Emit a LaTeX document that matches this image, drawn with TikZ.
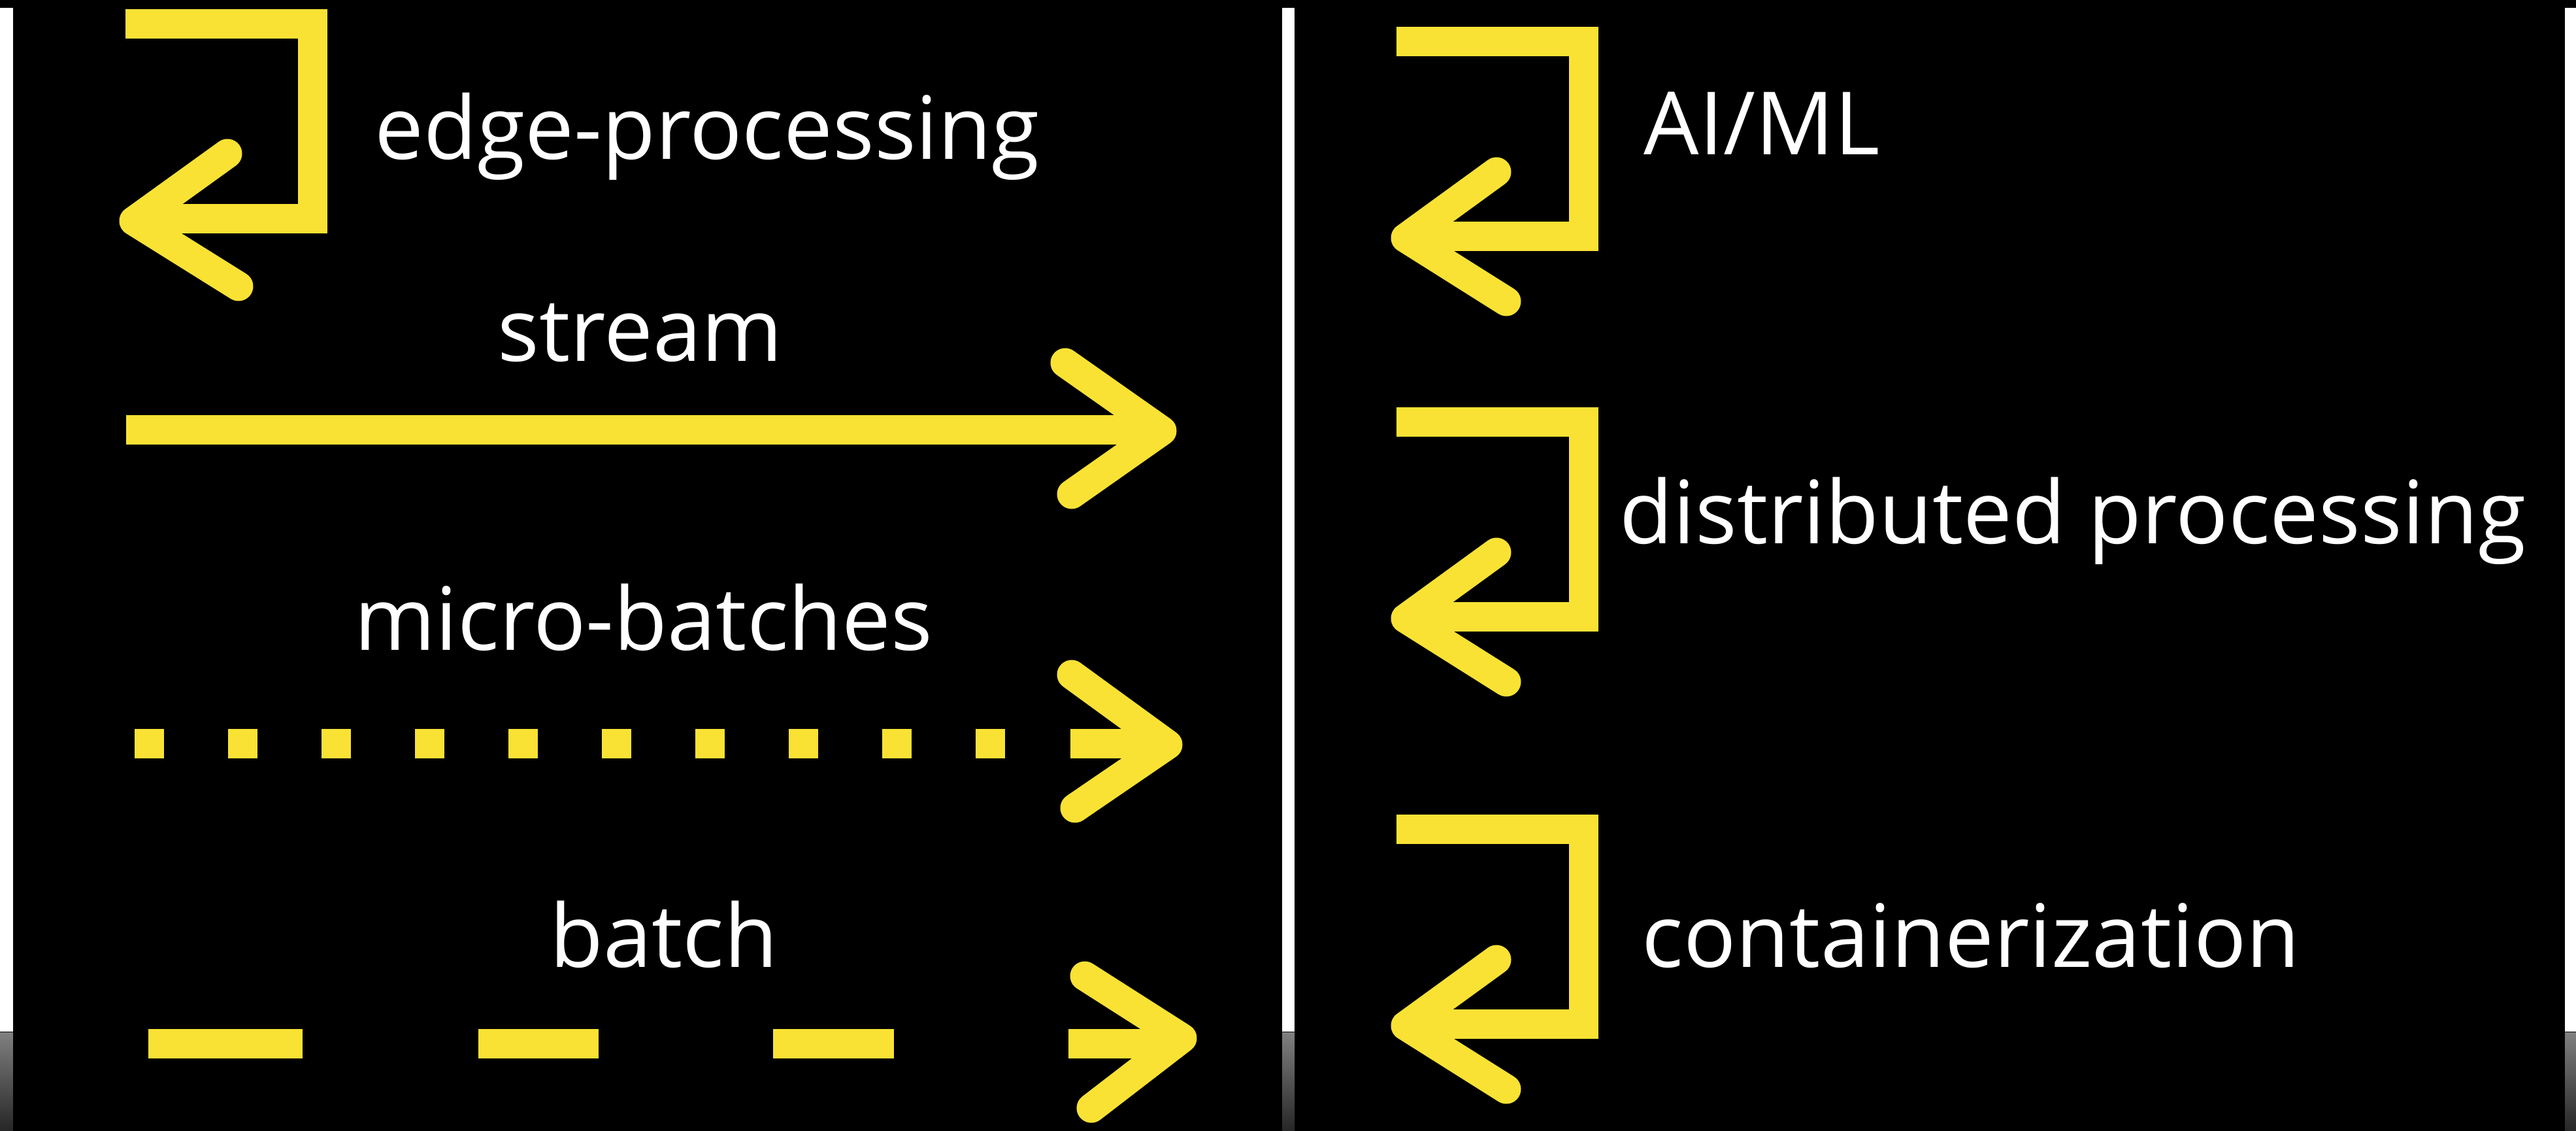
\documentclass[tikz,border=0pt]{standalone}
\usepackage{fontspec}
\setmainfont{Open Sans}
\usepackage{tikz}
\definecolor{chalkyellow}{RGB}{249,226,52}
\tikzset{
  chalk/.style={draw=chalkyellow, line width=4.5mm, line join=miter},
  chalktip/.style={draw=chalkyellow, line width=4.5mm, line cap=round, line join=round},
  chalktext/.style={text=white, font=\fontsize{38}{40}\selectfont, inner sep=0pt}
}

\begin{document}
\begin{tikzpicture}
  % Board
  \fill[black] (0,0) rectangle (39.42,17.30);
  \fill[white] (0,1.52) rectangle (0.20,17.18);
  \fill[white] (19.62,1.52) rectangle (19.81,17.18);
  \fill[white] (39.25,1.52) rectangle (39.42,17.18);
  \shade[top color=black!50, bottom color=black!85] (0,0) rectangle (0.20,1.50);
  \shade[top color=black!50, bottom color=black!85] (19.62,0) rectangle (19.81,1.50);
  \shade[top color=black!50, bottom color=black!85] (39.25,0) rectangle (39.42,1.50);

  % Edge processing
  \draw[chalk] (1.92,16.93) -- (4.78,16.93) -- (4.78,13.95) -- (2.10,13.95);
  \draw[chalktip] (3.48,14.95) -- (2.05,13.92) -- (3.65,12.92);
  \node[chalktext, anchor=base west] (edge) at (5.73,14.86) {edge-processing};

  % Stream
  \draw[chalk] (1.93,10.72) -- (17.70,10.72);
  \draw[chalktip] (16.30,11.75) -- (17.78,10.71) -- (16.40,9.74);
  \node[chalktext, anchor=base] (stream) at (9.80,11.77) {stream};

  % Micro-batches
  \draw[chalk, dash pattern=on 4.5mm off 9.8mm] (2.06,5.92) -- (15.41,5.92);
  \draw[chalk] (16.38,5.92) -- (17.80,5.92);
  \draw[chalktip] (16.40,6.98) -- (17.87,5.91) -- (16.45,4.94);
  \node[chalktext, anchor=base] (micro) at (9.85,7.35) {micro-batches};

  % Batch
  \foreach \a/\b in {2.27/4.63, 7.32/9.16, 11.83/13.68, 16.35/18.00}
    \draw[chalk] (\a,1.33) -- (\b,1.33);
  \draw[chalktip] (16.60,2.37) -- (18.09,1.42) -- (16.70,0.35);
  \node[chalktext, anchor=base] (batch) at (10.16,2.50) {batch};

  % Right column
  \foreach \ytop in {16.66,10.84,4.61}{
    \draw[chalk] (21.37,\ytop) -- (24.23,\ytop) -- (24.23,\ytop-2.98) -- (21.60,\ytop-2.98);
    \draw[chalktip] (22.90,\ytop-1.99) -- (21.51,\ytop-3.0) -- (23.05,\ytop-3.97);
  }
  \node[chalktext, anchor=base west] (aiml) at (25.15,14.93) {AI/ML};
  \node[chalktext, anchor=base west] (distributed) at (24.78,8.98) {distributed processing};
  \node[chalktext, anchor=base west] (container) at (25.12,2.50) {containerization};
\end{tikzpicture}
\end{document}
